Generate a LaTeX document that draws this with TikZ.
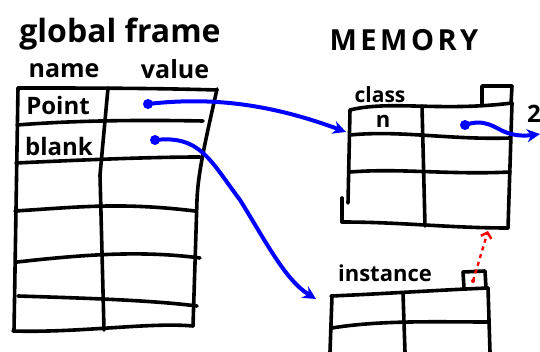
\documentclass[tikz,border=0pt]{standalone}
\usepackage{fontspec}
\setmainfont{Open Sans}
\usetikzlibrary{arrows.meta}
\tikzset{
  ink/.style={line width=3.6pt, line cap=round, line join=round, black},
  ptr/.style={line width=4pt, blue, line cap=round,
    -{Stealth[length=13pt,width=13pt,inset=4pt]}},
  dotmark/.style={circle, fill=blue, inner sep=0pt, minimum size=10pt},
  link/.style={line width=2.4pt, red, dash pattern=on 4pt off 4pt,
    -{Straight Barb[length=5pt,width=11pt,line width=2.4pt]}},
  hand/.style={inner sep=0pt, text=black},
}
\newcommand{\penfont}[1]{\fontsize{#1}{#1}\selectfont\bfseries}
\begin{document}
\begin{tikzpicture}[x=1pt,y=-1pt]
\useasboundingbox (0,0) rectangle (540,352);
\fill[white] (0,0) rectangle (540,352);

% ---- headings
\node[hand, font=\penfont{32}] (gf) at (120,34) {global frame};
\node[hand, font=\penfont{25}] (hname) at (64,71) {name};
\node[hand, font=\penfont{25}] (hval) at (175,69) {value};
\node[hand, font=\penfont{29}\addfontfeature{LetterSpace=12}] (mem) at (404,40) {MEMORY};

% ---- global frame table
\draw[ink] (18,88) -- (14,331);
\draw[ink] (217,89) .. controls (208,130) and (198,170) .. (197,200) -- (193,326);
\draw[ink] (108,88) -- (100,175) -- (104,330);
\draw[ink] (18,88) .. controls (80,88) and (150,88) .. (217,90);
\draw[ink] (17,125) .. controls (80,120) and (150,120) .. (203,121);
\draw[ink] (16,163) .. controls (80,160) and (150,157) .. (200,157);
\draw[ink] (15,211) .. controls (80,207) and (120,202) .. (195,211);
\draw[ink] (17,262) .. controls (80,255) and (140,250) .. (200,258);
\draw[ink] (18,296) .. controls (80,298) and (150,300) .. (197,306);
\draw[ink] (13,331) .. controls (80,333) and (150,322) .. (193,326);
\node[hand, font=\penfont{24}] (point) at (58,106) {Point};
\node[hand, font=\penfont{24}] (blank) at (59,147) {blank};

% ---- class object
\node[hand, font=\penfont{21}] (cls) at (380,95) {class};
\draw[ink] (482,104) -- (482,86) -- (512,86) -- (511,104);
\draw[ink] (350,110) .. controls (390,100) and (440,112) .. (512,103);
\draw[ink] (350,110) -- (348,203);
\draw[ink] (342,198) -- (342,222);
\draw[ink] (512,103) -- (508,228);
\draw[ink] (422,106) -- (425,226);
\draw[ink] (350,135) .. controls (400,130) and (450,140) .. (510,138);
\draw[ink] (350,172) .. controls (400,168) and (450,175) .. (510,172);
\draw[ink] (342,222) .. controls (400,222) and (450,228) .. (508,228);
\node[hand, font=\penfont{22}] (nslot) at (383,121) {n};
\node[hand, font=\penfont{24}, anchor=west] (two) at (527,114) {2};

% ---- instance object
\node[hand, font=\penfont{22}] (inst) at (385,273) {instance};
\draw[ink] (464,288) -- (463,272) -- (485,271) -- (486,288);
\draw[ink] (331,296) .. controls (380,294) and (440,290) .. (488,288);
\draw[ink] (332,296) -- (330,352);
\draw[ink] (488,288) -- (490,352);
\draw[ink] (403,293) -- (405,352);
\draw[ink] (332,328) .. controls (380,320) and (440,322) .. (488,322);

% ---- references
\coordinate (pv) at (148,104);
\coordinate (bv) at (155,140);
\coordinate (nv) at (465,125);
\coordinate (clsin) at (346,132);
\coordinate (instin) at (316,299);
\coordinate (twoin) at (540,134);
\coordinate (instcls) at (473,281);
\coordinate (clsbot) at (488,231);
\node[dotmark] (pvd) at (pv) {};
\node[dotmark] (bvd) at (bv) {};
\node[dotmark] (nvd) at (nv) {};
\draw[ptr] (pv) .. controls (200,98) and (260,100) .. (clsin);
\draw[ptr] (bv) .. controls (200,135) and (210,160) .. (240,200)
  .. controls (265,240) and (285,280) .. (instin);
\draw[ptr] (nv) .. controls (485,118) and (495,128) .. (505,132)
  .. controls (515,136) and (525,136) .. (twoin);
\draw[link] (instcls) -- (clsbot);
\fill[red] (instcls) circle (2pt);
\end{tikzpicture}
\end{document}
